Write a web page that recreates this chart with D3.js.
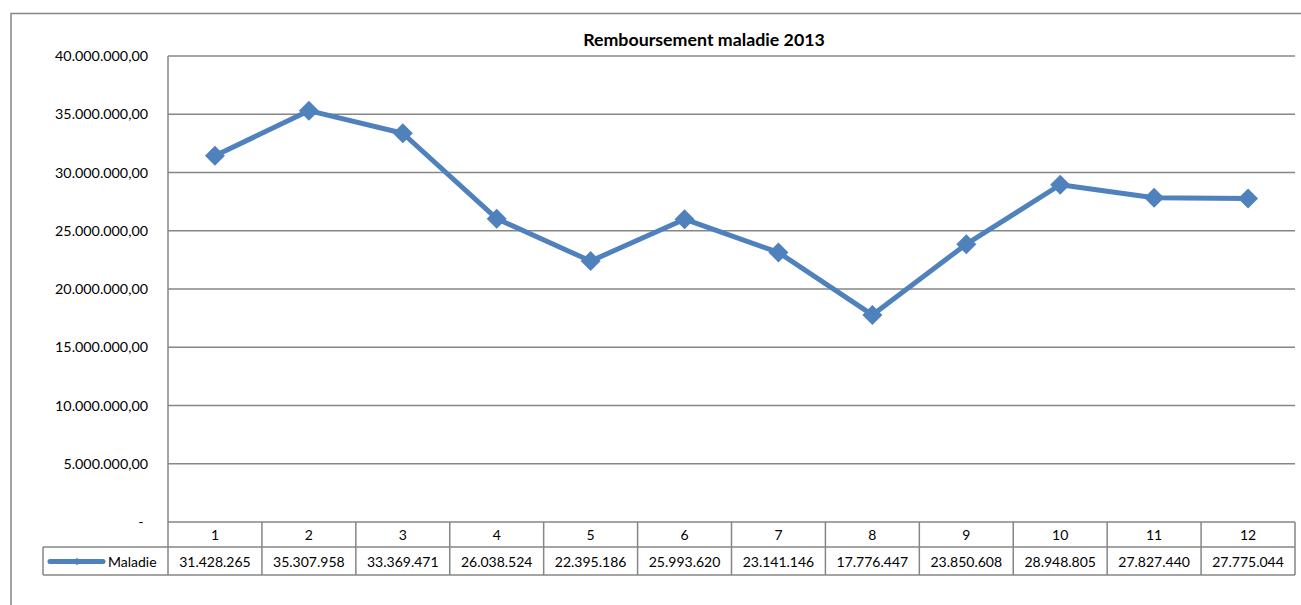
<!DOCTYPE html>
<html><head><meta charset="utf-8">
<script src="https://cdn.jsdelivr.net/npm/d3@7"></script>
<style>
body{margin:0;background:#fff;}
text{font-family:Lato,"Open Sans",sans-serif;}
</style></head>
<body><svg id="c" width="1301" height="605"></svg>
<script>
const months = ["1","2","3","4","5","6","7","8","9","10","11","12"];
const maladie = [31428265,35307958,33369471,26038524,22395186,25993620,23141146,17776447,23850608,28948805,27827440,27775044];
const tableLabels = ["31.428.265","35.307.958","33.369.471","26.038.524","22.395.186","25.993.620","23.141.146","17.776.447","23.850.608","28.948.805","27.827.440","27.775.044"];
const yTicks = [0,5000000,10000000,15000000,20000000,25000000,30000000,35000000,40000000];
const seriesName = "Maladie";
const title = "Remboursement maladie 2013";

const svg = d3.select("#c");
const L=168,R=1295,T=56,B=522;
const gray="#868686", blue="#4F81BD";

// outer border
svg.append("rect").attr("x",11).attr("y",13.5).attr("width",1400).attr("height",700)
  .attr("fill","none").attr("stroke",gray).attr("stroke-width",1.5);

const x = d3.scaleBand().domain(months).range([L,R]);
const y = d3.scaleLinear().domain([0,40000000]).range([B,T]);

// gridlines
svg.append("g").selectAll("line").data(yTicks.filter(d=>d>0)).join("line")
  .attr("x1",L).attr("x2",R).attr("y1",d=>y(d)).attr("y2",d=>y(d))
  .attr("stroke",gray).attr("stroke-width",1.5);

// y axis labels
const fmt = d => d===0 ? "-" : d3.format(",.2f")(d).replace(/,/g,"#").replace(".",",").replace(/#/g,".");
svg.append("g").selectAll("text").data(yTicks).join("text")
  .attr("x",d=>d===0?141:148).attr("y",d=>y(d)).attr("dy","0.35em")
  .attr("text-anchor",d=>d===0?"middle":"end").attr("font-size",14.3).attr("fill","#000")
  .text(fmt);

// table
const rowMid=547, rowBot=575;
const tg = svg.append("g").attr("stroke",gray).attr("stroke-width",1.5).attr("fill","none");
tg.append("line").attr("x1",L).attr("x2",L).attr("y1",T).attr("y2",rowBot);
tg.append("line").attr("x1",L).attr("x2",R).attr("y1",B).attr("y2",B);
tg.append("line").attr("x1",43).attr("x2",R).attr("y1",rowMid).attr("y2",rowMid);
tg.append("line").attr("x1",43).attr("x2",R).attr("y1",rowBot).attr("y2",rowBot);
tg.append("line").attr("x1",43).attr("x2",43).attr("y1",rowMid).attr("y2",rowBot);
tg.selectAll("line.v").data(months).join("line").attr("class","v")
  .attr("x1",d=>x(d)+x.bandwidth()).attr("x2",d=>x(d)+x.bandwidth()).attr("y1",B).attr("y2",rowBot);

svg.append("g").selectAll("text").data(months).join("text")
  .attr("x",d=>x(d)+x.bandwidth()/2).attr("y",(B+rowMid)/2+1).attr("dy","0.35em")
  .attr("text-anchor","middle").attr("font-size",14).text(d=>d);
svg.append("g").selectAll("text").data(tableLabels).join("text")
  .attr("x",(d,i)=>x(months[i])+x.bandwidth()/2).attr("y",(rowMid+rowBot)/2+1).attr("dy","0.35em")
  .attr("text-anchor","middle").attr("font-size",14).text(d=>d);

// legend key
svg.append("line").attr("x1",50).attr("x2",103).attr("y1",561.5).attr("y2",561.5)
  .attr("stroke",blue).attr("stroke-width",5).attr("stroke-linecap","round");
svg.append("path").attr("d",d3.symbol(d3.symbolSquare,28)()).attr("transform","translate(77,561.5) rotate(45)").attr("fill",blue);
svg.append("text").attr("x",108).attr("y",562).attr("dy","0.35em").attr("font-size",14).text(seriesName);

// line
const cx = d => x(d)+x.bandwidth()/2;
svg.append("path").datum(maladie)
  .attr("d",d3.line().x((d,i)=>cx(months[i])).y(d=>y(d)))
  .attr("fill","none").attr("stroke",blue).attr("stroke-width",5).attr("stroke-linejoin","round");
svg.append("g").selectAll("path").data(maladie).join("path")
  .attr("d",d3.symbol(d3.symbolSquare,200)())
  .attr("transform",(d,i)=>`translate(${cx(months[i])},${y(d)}) rotate(45)`).attr("fill",blue);

// title
svg.append("text").attr("x",704).attr("y",39.5).attr("dy","0.35em").attr("text-anchor","middle")
  .attr("font-size",17.8).attr("font-weight","bold").text(title);
</script></body></html>
